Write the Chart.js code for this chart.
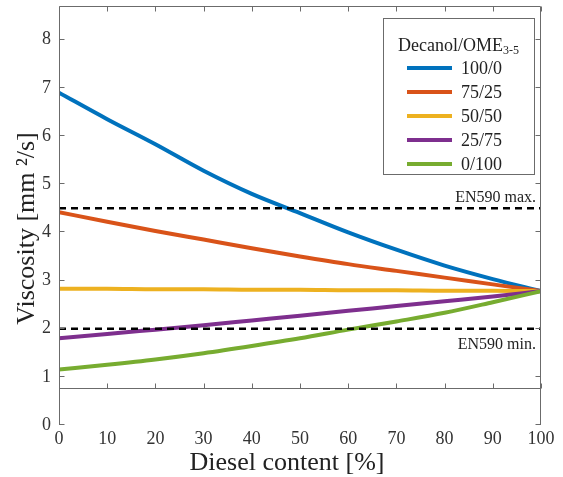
<!DOCTYPE html>
<html>
<head>
<meta charset="utf-8">
<script src="https://cdn.jsdelivr.net/npm/chart.js@4.4.1/dist/chart.umd.min.js"></script>
<style>
  html, body { margin: 0; padding: 0; background: #fff; }
  #wrap { width: 563px; height: 477px; }
</style>
</head>
<body>
<div id="wrap"><canvas id="viscChart" width="563" height="477"></canvas></div>
<script>
// Values
const dieselContent = [0, 10, 20, 30, 40, 50, 60, 70, 80, 90, 100];
const seriesLabels = ['100/0', '75/25', '50/50', '25/75', '0/100'];
const visc100_0 = [6.90, 6.35, 5.83, 5.28, 4.80, 4.40, 4.00, 3.64, 3.31, 3.03, 2.78];
const visc75_25 = [4.42, 4.22, 4.03, 3.85, 3.67, 3.50, 3.34, 3.20, 3.06, 2.92, 2.78];
const visc50_50 = [2.83, 2.83, 2.82, 2.82, 2.81, 2.81, 2.80, 2.80, 2.79, 2.79, 2.78];
const visc25_75 = [1.80, 1.89, 1.98, 2.07, 2.17, 2.27, 2.37, 2.47, 2.57, 2.67, 2.78];
const visc0_100 = [1.15, 1.25, 1.36, 1.49, 1.64, 1.80, 1.98, 2.15, 2.33, 2.55, 2.78];
const en590Max = 4.5;
const en590Min = 2.0;
const xTicks = [0, 10, 20, 30, 40, 50, 60, 70, 80, 90, 100];
const yTicks = [0, 1, 2, 3, 4, 5, 6, 7, 8];

const colors = ['#0072BD', '#D95319', '#EDB120', '#7E2F8E', '#77AC30'];
const allSeries = [visc100_0, visc75_25, visc50_50, visc25_75, visc0_100];
const axisColor = '#6b6b6b';
const serif = '"Liberation Serif", "Times New Roman", serif';

Chart.defaults.font.family = serif;
Chart.defaults.color = '#333';

const toPoints = vals => vals.map((v, i) => ({ x: dieselContent[i], y: v }));

const datasets = allSeries.map((vals, i) => ({
    label: seriesLabels[i],
    data: toPoints(vals),
    borderColor: colors[i],
    borderWidth: 4,
    pointRadius: 0,
    cubicInterpolationMode: 'monotone',
    order: 5 - i
}));

[en590Max, en590Min].forEach(lim => {
    datasets.push({
        label: 'limit',
        isLimit: true,
        data: [{ x: 0, y: lim }, { x: 100, y: lim }],
        borderColor: '#000',
        borderWidth: 2.5,
        borderDash: [7, 5],
        pointRadius: 0,
        order: 0
    });
});

// axes box with the broken lower part, tick marks pointing inward
const frame = {
    id: 'frame',
    afterDatasetsDraw(chart) {
        const { ctx, chartArea: a, scales: { x, y } } = chart;
        const yBreak = Math.round(y.getPixelForValue(0.77)) + 0.5;
        const L = Math.round(a.left) + 0.5, R = Math.round(a.right) - 0.5, T = Math.round(a.top) + 0.5;
        ctx.save();
        ctx.strokeStyle = axisColor;
        ctx.lineWidth = 1;
        ctx.beginPath();
        ctx.moveTo(L, a.bottom); ctx.lineTo(L, T); ctx.lineTo(R, T); ctx.lineTo(R, a.bottom);
        ctx.moveTo(L, yBreak); ctx.lineTo(R, yBreak);
        xTicks.forEach(v => {
            const px = Math.round(x.getPixelForValue(v)) + 0.5;
            ctx.moveTo(px, yBreak); ctx.lineTo(px, yBreak - 5);
            ctx.moveTo(px, T); ctx.lineTo(px, T + 5);
        });
        yTicks.forEach(v => {
            const py = Math.round(y.getPixelForValue(v)) - 0.5;
            ctx.moveTo(L, py); ctx.lineTo(L + 5, py);
            ctx.moveTo(R, py); ctx.lineTo(R - 5, py);
        });
        ctx.stroke();

        // limit labels
        ctx.fillStyle = '#222';
        ctx.font = '16px ' + serif;
        ctx.textAlign = 'right';
        ctx.textBaseline = 'alphabetic';
        ctx.fillText('EN590 max.', a.right - 5, y.getPixelForValue(en590Max) - 6);
        ctx.fillText('EN590 min.', a.right - 5, y.getPixelForValue(en590Min) + 20);
        ctx.restore();
    }
};

// boxed legend in the upper right corner
const boxLegend = {
    id: 'boxLegend',
    afterDraw(chart) {
        const { ctx } = chart;
        const bx = 383, by = 18, bw = 151, bh = 156;
        ctx.save();
        ctx.fillStyle = '#fff';
        ctx.fillRect(bx, by, bw, bh);
        ctx.strokeStyle = axisColor;
        ctx.lineWidth = 1;
        ctx.strokeRect(bx + 0.5, by + 0.5, bw, bh);

        ctx.fillStyle = '#222';
        ctx.textAlign = 'left';
        ctx.textBaseline = 'alphabetic';
        ctx.font = '18px ' + serif;
        ctx.fillText('Decanol/OME', 398, 51);
        const w = ctx.measureText('Decanol/OME').width;
        ctx.font = '12px ' + serif;
        ctx.fillText('3-5', 398 + w, 54);

        chart.data.datasets.filter(d => !d.isLimit).forEach((d, i) => {
            const cy = 68 + i * 24;
            ctx.strokeStyle = d.borderColor;
            ctx.lineWidth = 4;
            ctx.beginPath();
            ctx.moveTo(407, cy); ctx.lineTo(452, cy);
            ctx.stroke();
            ctx.fillStyle = '#222';
            ctx.font = '18px ' + serif;
            ctx.textBaseline = 'middle';
            ctx.fillText(d.label, 461, cy + 1);
        });
        ctx.restore();
    }
};

new Chart(document.getElementById('viscChart').getContext('2d'), {
    type: 'line',
    data: { datasets },
    options: {
        responsive: false,
        animation: false,
        devicePixelRatio: 1,
        layout: { padding: { top: 6, right: 22, left: 0, bottom: 0 } },
        plugins: { legend: { display: false }, tooltip: { enabled: false } },
        scales: {
            x: {
                type: 'linear',
                min: 0, max: 100,
                afterBuildTicks: s => { s.ticks = xTicks.map(v => ({ value: v })); },
                afterFit: s => { s.height = 52; s.paddingLeft = 0; s.paddingRight = 0; },
                grid: { display: false, drawTicks: false },
                border: { display: false },
                ticks: { font: { size: 18 }, padding: 3, maxRotation: 0, color: '#333' },
                title: { display: true, text: 'Diesel content [%]\u2002\u2002', font: { size: 26, lineHeight: 1 }, color: '#222', padding: { top: 0, bottom: 1 } }
            },
            y: {
                min: 0, max: 8.7,
                afterBuildTicks: s => { s.ticks = yTicks.map(v => ({ value: v })); },
                afterFit: s => { s.width = 59; s.paddingTop = 0; s.paddingBottom = 0; },
                grid: { display: false, drawTicks: false },
                border: { display: false },
                ticks: { font: { size: 18 }, padding: 8, color: '#333' },
                title: { display: true, text: 'Viscosity [mm \u00b2/s]\u2002\u2002', font: { size: 26, lineHeight: 1 }, color: '#222', padding: { top: 14, bottom: 0 } }
            }
        }
    },
    plugins: [frame, boxLegend]
});
</script>
</body>
</html>
